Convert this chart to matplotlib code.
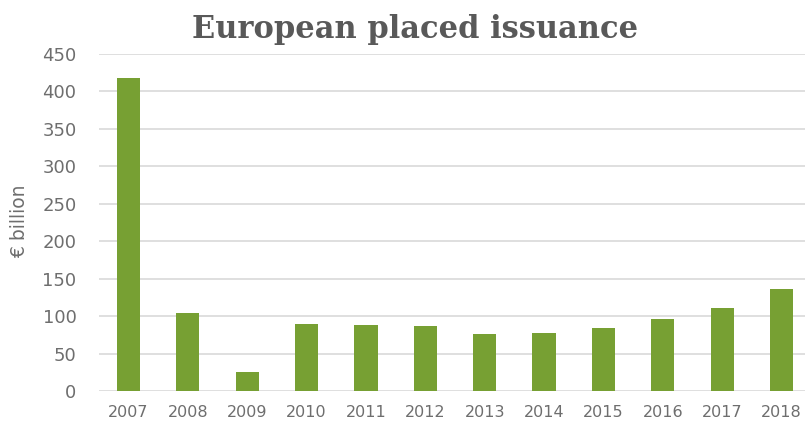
import matplotlib
matplotlib.use("Agg")
import matplotlib.pyplot as plt

years = ["2007", "2008", "2009", "2010", "2011", "2012", "2013", "2014", "2015", "2016", "2017", "2018"]
issuance = [418, 104, 25, 90, 88, 87, 76, 77, 84, 96, 111, 136]

title_col = "#595959"
tick_col = "#6e6e6e"
bar_col = "#77A033"

fig = plt.figure(figsize=(8.05, 4.21), dpi=100)
ax = fig.add_axes([0.1227, 0.0713, 0.885, 0.8005])

ax.bar(range(len(years)), issuance, width=0.39, color=bar_col, zorder=3)
ax.set_xlim(-0.5, len(years) - 0.5)
ax.set_ylim(0, 450)
ax.set_yticks(range(0, 451, 50))
ax.set_xticks(range(len(years)))
ax.set_xticklabels(years)
ax.yaxis.grid(True, color="#d9d9d9", linewidth=1.2, zorder=0)
for s in ax.spines.values():
    s.set_visible(False)
ax.tick_params(length=0, colors=tick_col)
ax.tick_params(axis="y", pad=16, labelsize=13)
ax.tick_params(axis="x", pad=10, labelsize=11.5)

fig.text(0.024, 0.475, "€ billion", rotation=90, ha="center", va="center",
         fontsize=13.5, color=tick_col)
fig.text(0.516, 0.929, "European placed issuance", ha="center", va="center",
         fontsize=22, fontweight="bold", family="DejaVu Serif", color=title_col)

fig.savefig("out.png", dpi=100)
